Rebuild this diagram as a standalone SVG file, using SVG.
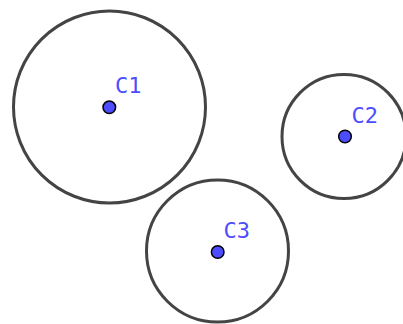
<svg xmlns="http://www.w3.org/2000/svg" width="403" height="324" viewBox="0 0 403 324">
<style>
.c{fill:none;stroke:#444;stroke-width:3}
.p{fill:#4d4dff;stroke:#000;stroke-width:1.5}
.t{font-family:"DejaVu Sans Mono",monospace;font-size:22px;fill:#4d4dff}
</style>
<rect width="403" height="324" fill="#fff"/>
<g id="C1"><circle class="c" cx="109.5" cy="107" r="96"/><circle class="p" cx="109.3" cy="107.3" r="6.3"/><text class="t" x="115" y="93">C1</text></g>
<g id="C2"><circle class="c" cx="344" cy="136.5" r="62"/><circle class="p" cx="345" cy="136.5" r="6.3"/><text class="t" x="351.5" y="123">C2</text></g>
<g id="C3"><circle class="c" cx="217.5" cy="251" r="71"/><circle class="p" cx="217.7" cy="252" r="6.3"/><text class="t" x="223.5" y="238">C3</text></g>
<g id="connectors"/>
</svg>
